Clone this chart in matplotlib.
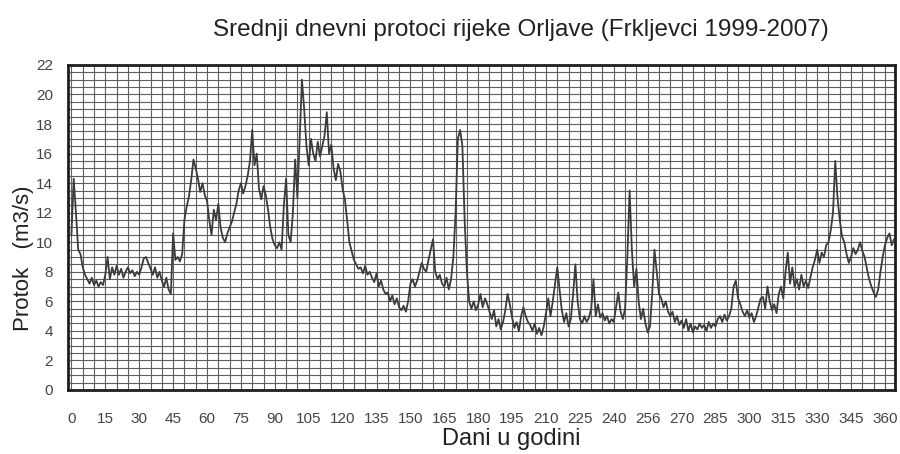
import numpy as np
import matplotlib
matplotlib.use("Agg")
import matplotlib.pyplot as plt
from matplotlib.ticker import MultipleLocator, FixedLocator

plt.rcParams['font.family'] = ['Liberation Sans', 'DejaVu Sans']

title = "Srednji dnevni protoci rijeke Orljave (Frkljevci 1999-2007)"
x_label = "Dani u godini"
y_label = "Protok   (m3/s)"

# mean daily discharge (m3/s), day 0 .. 364
flow = [
    10.5, 14.3, 12.0, 9.5, 9.2, 8.3, 7.8, 7.5, 7.2, 7.6, 7.1, 7.4, 7.0, 7.3, 7.1,
    7.8, 9.0, 7.5, 8.3, 7.8, 8.4, 7.8, 8.2, 7.6, 8.0, 8.3, 7.9, 8.1, 7.7, 8.0,
    7.8, 8.3, 8.9, 9.0, 8.6, 8.2, 7.8, 8.3, 7.6, 8.0, 7.4, 7.0, 7.6, 6.8, 6.5,
    10.6, 8.8, 9.0, 8.7, 9.2, 11.5, 12.4, 13.1, 14.2, 15.6, 15.0, 14.3, 13.4, 14.0, 13.2,
    12.8, 11.5, 10.5, 12.2, 11.5, 12.6, 11.0, 10.3, 10.0, 10.6, 11.0, 11.4, 12.0, 12.6, 13.5,
    14.0, 13.3, 13.8, 14.5, 15.5, 17.6, 15.2, 16.0, 13.6, 12.9, 13.8, 13.2, 12.2, 11.0, 10.2,
    9.8, 9.6, 10.0, 9.5, 12.5, 14.3, 10.5, 10.0, 12.0, 15.6, 13.0, 17.0, 21.0, 19.0, 16.5,
    15.2, 17.0, 16.0, 15.5, 16.8, 15.8, 16.5, 17.2, 18.8, 16.0, 16.6, 15.0, 14.2, 15.3, 14.8,
    13.6, 12.9, 11.5, 10.0, 9.4, 8.8, 8.5, 8.2, 8.3, 7.9, 8.4, 7.8, 8.0, 7.6, 7.3,
    7.9, 7.0, 7.4, 6.8, 6.5, 6.6, 6.0, 6.4, 5.8, 6.2, 5.6, 5.4, 5.7, 5.3, 6.0,
    7.2, 7.5, 7.0, 7.4, 8.0, 8.6, 8.2, 8.0, 8.8, 9.5, 10.2, 8.0, 7.5, 7.8, 7.2,
    7.0, 7.6, 6.8, 7.5, 9.0, 12.0, 17.0, 17.6, 16.5, 11.5, 8.0, 6.0, 5.5, 6.0, 5.4,
    5.8, 6.5, 5.6, 6.2, 5.8, 5.3, 4.8, 5.4, 4.3, 4.8, 4.1, 4.6, 5.4, 6.5, 5.8,
    4.9, 4.2, 4.6, 4.0, 5.0, 5.6, 5.0, 4.6, 4.4, 4.0, 4.5, 3.8, 4.2, 3.7, 4.3,
    5.2, 6.2, 5.0, 6.0, 7.2, 8.3, 6.8, 5.4, 4.6, 5.2, 4.3, 4.8, 6.5, 8.5, 6.0,
    4.8, 4.5, 5.0, 4.6, 4.9, 5.5, 7.5, 5.0, 5.8, 4.9, 5.2, 4.7, 5.0, 4.5, 4.8,
    4.6, 5.6, 6.6, 5.3, 4.8, 5.5, 9.0, 13.5, 9.5, 7.0, 8.2, 6.0, 4.8, 5.5, 4.5,
    3.9, 4.3, 6.5, 9.5, 8.0, 6.5, 6.2, 5.6, 6.0, 5.3, 5.0, 5.3, 4.6, 5.0, 4.4,
    4.7, 4.2, 4.8, 4.0, 4.5, 3.9, 4.3, 4.1, 4.5, 4.2, 4.4, 4.0, 4.6, 4.2, 4.5,
    4.3, 4.8, 5.0, 4.6, 5.1, 4.7, 5.0, 5.5, 7.0, 7.4, 6.2, 5.8, 5.3, 5.0, 5.4,
    4.9, 5.2, 4.6, 5.0, 5.6, 6.2, 6.3, 5.5, 7.0, 6.0, 5.4, 5.8, 5.2, 6.5, 7.0,
    6.2, 8.0, 9.3, 7.2, 8.3, 7.0, 7.5, 6.8, 7.8, 7.0, 7.4, 6.9, 7.6, 8.3, 8.8,
    9.5, 8.6, 9.3, 9.0, 9.8, 10.0, 10.8, 12.0, 15.5, 13.0, 11.5, 10.4, 10.0, 9.2, 8.6,
    9.0, 9.6, 9.2, 9.5, 10.0, 9.4, 9.0, 8.2, 7.5, 7.0, 6.6, 6.3, 6.8, 8.0, 9.0,
    9.8, 10.3, 10.6, 9.8, 10.2,
]
days = np.arange(len(flow))

x_tick_pos = [0, 15, 30, 45, 60, 75, 90, 105, 120, 135, 150, 165, 180,
              195, 210, 225, 240, 255, 270, 285, 300, 315, 330, 345, 360]
x_tick_labels = ["0", "15", "30", "45", "60", "75", "90", "105", "120", "135",
                 "150", "165", "180", "195", "210", "225", "240", "256", "270",
                 "285", "300", "315", "330", "345", "360"]
y_ticks = list(range(0, 23, 2))

fig = plt.figure(figsize=(9.0, 4.54), dpi=100)
ax = fig.add_axes([0.0756, 0.141, 0.919, 0.716])

ax.plot(days, flow, color='#3c3c3c', lw=1.3, zorder=3)

ax.set_xlim(-1.5, 364.5)
ax.set_ylim(0, 22)

ax.xaxis.set_major_locator(FixedLocator(x_tick_pos))
ax.set_xticklabels(x_tick_labels)
ax.xaxis.set_minor_locator(MultipleLocator(5))
ax.set_yticks(y_ticks)
ax.yaxis.set_minor_locator(MultipleLocator(0.5))

ax.grid(which='both', color='#5e5e5e', lw=0.8, zorder=1)
ax.set_axisbelow(True)

ax.tick_params(which='both', length=0)
ax.tick_params(axis='x', pad=16, labelsize=11, labelcolor='#444444')
ax.tick_params(axis='y', pad=11, labelsize=11, labelcolor='#444444')

for s in ax.spines.values():
    s.set_linewidth(2.0)
    s.set_color('#1e1e1e')

fig.text(0.579, 0.934, title, ha='center', va='center', fontsize=17.5, color='#222222')
fig.text(0.568, 0.033, x_label, ha='center', va='center', fontsize=17, color='#222222')
fig.text(0.026, 0.432, y_label, ha='center', va='center', rotation=90,
         fontsize=16, color='#222222')

fig.savefig("out.png", dpi=100, facecolor='white')
